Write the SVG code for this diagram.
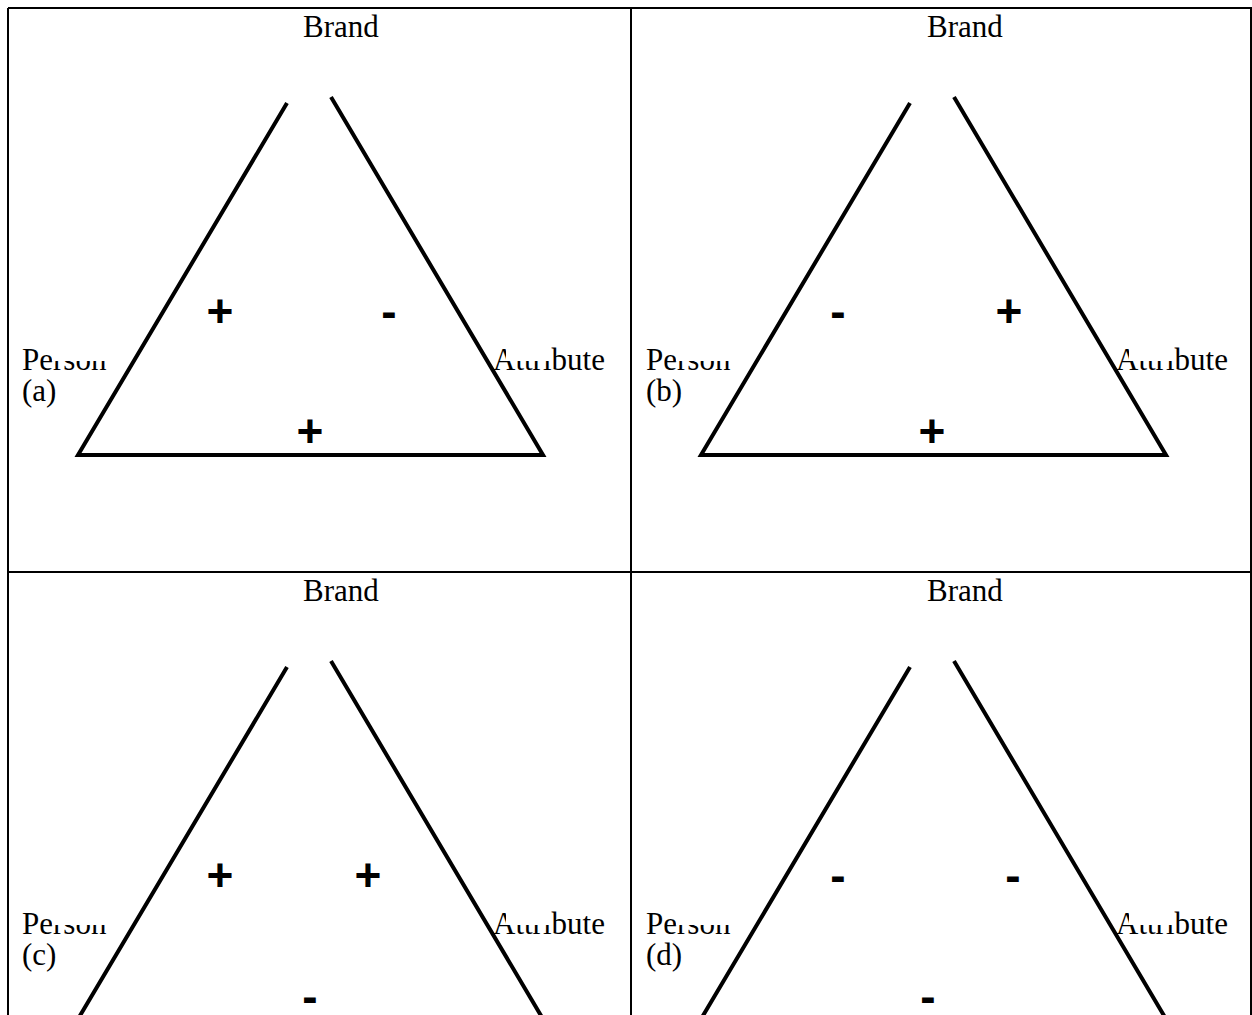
<svg xmlns="http://www.w3.org/2000/svg" width="1252" height="1015" viewBox="0 0 1252 1015">
<style>
.grid{stroke:#000;stroke-width:2;fill:none}
.tri{stroke:#000;stroke-width:4;fill:none;stroke-linecap:butt}
.lbl{font-family:"Liberation Serif","Times New Roman",serif;font-size:31px;fill:#000}
.sign{font-family:"Liberation Sans",Arial,sans-serif;font-size:46px;font-weight:bold;fill:#000;text-anchor:middle}
.mask{fill:#fff}
</style>
<defs>
<g id="panel">
<polyline class="tri" points="287,103 78,455 543,455 331,97"/>
</g>
</defs>
<g id="grid">
<line class="grid" x1="8" y1="8" x2="1252" y2="8"/>
<line class="grid" x1="8" y1="8" x2="8" y2="1015"/>
<line class="grid" x1="631" y1="8" x2="631" y2="1015"/>
<line class="grid" x1="1251" y1="8" x2="1251" y2="1015"/>
<line class="grid" x1="8" y1="572" x2="1252" y2="572"/>
</g>
<g id="connectors">
<use href="#panel"/>
<use href="#panel" transform="translate(623,0)"/>
<use href="#panel" transform="translate(0,564)"/>
<use href="#panel" transform="translate(623,564)"/>
</g>
<g id="panel-a">
<text class="lbl" x="303" y="37">Brand</text>
<text class="lbl" x="22" y="370">Person</text>
<text class="lbl" x="493" y="370">Attribute</text>
<rect class="mask" x="52" y="335" width="60" height="26"/>
<rect class="mask" x="506" y="335" width="44" height="26"/>
<text class="lbl" x="22" y="401">(a)</text>
<text class="sign" x="220" y="327">+</text>
<text class="sign" x="389" y="327">-</text>
<text class="sign" x="310" y="447">+</text>
</g>
<g id="panel-b">
<text class="lbl" x="927" y="37">Brand</text>
<text class="lbl" x="646" y="370">Person</text>
<text class="lbl" x="1116" y="370">Attribute</text>
<rect class="mask" x="676" y="335" width="60" height="26"/>
<rect class="mask" x="1129" y="335" width="44" height="26"/>
<text class="lbl" x="646" y="401">(b)</text>
<text class="sign" x="838" y="327">-</text>
<text class="sign" x="1009" y="327">+</text>
<text class="sign" x="932" y="447">+</text>
</g>
<g id="panel-c">
<text class="lbl" x="303" y="601">Brand</text>
<text class="lbl" x="22" y="934">Person</text>
<text class="lbl" x="493" y="934">Attribute</text>
<rect class="mask" x="52" y="899" width="60" height="26"/>
<rect class="mask" x="506" y="899" width="44" height="26"/>
<text class="lbl" x="22" y="965">(c)</text>
<text class="sign" x="220" y="891">+</text>
<text class="sign" x="368" y="891">+</text>
<text class="sign" x="310" y="1012">-</text>
</g>
<g id="panel-d">
<text class="lbl" x="927" y="601">Brand</text>
<text class="lbl" x="646" y="934">Person</text>
<text class="lbl" x="1116" y="934">Attribute</text>
<rect class="mask" x="676" y="899" width="60" height="26"/>
<rect class="mask" x="1129" y="899" width="44" height="26"/>
<text class="lbl" x="646" y="965">(d)</text>
<text class="sign" x="838" y="891">-</text>
<text class="sign" x="1013" y="891">-</text>
<text class="sign" x="928" y="1012">-</text>
</g>
</svg>
